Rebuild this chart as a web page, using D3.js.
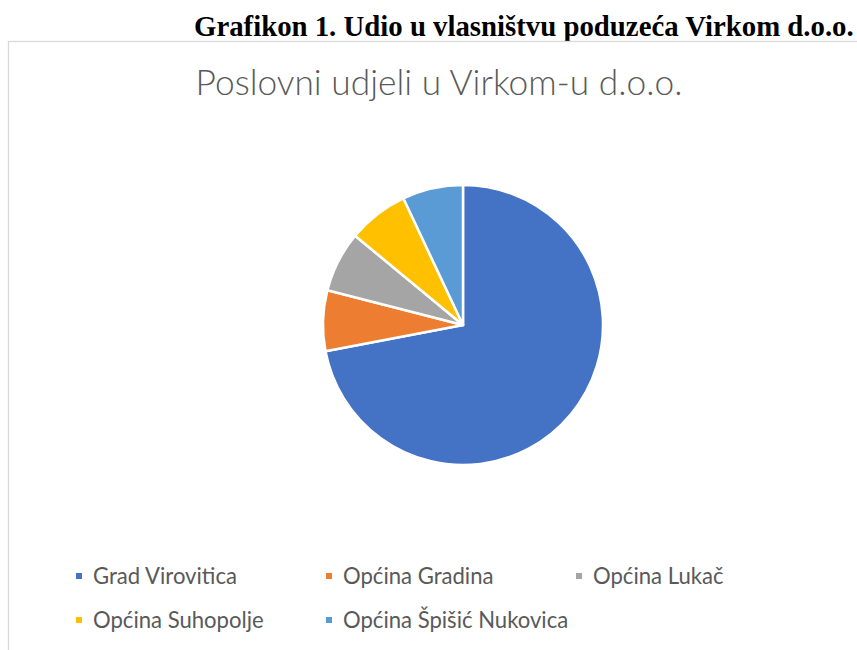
<!DOCTYPE html>
<html>
<head>
<meta charset="utf-8">
<script src="https://cdn.jsdelivr.net/npm/d3@7"></script>
<style>
  body { margin: 0; background: #fff; }
  svg { display: block; }
</style>
</head>
<body>
<svg id="chart" width="857" height="650"></svg>
<script>
// data
const categories = ["Grad Virovitica", "Općina Gradina", "Općina Lukač", "Općina Suhopolje", "Općina Špišić Nukovica"];
const shares = [72, 7, 7, 7, 7];
const colors = ["#4472C4", "#ED7D31", "#A5A5A5", "#FFC000", "#5B9BD5"];

const pageTitle = "Grafikon 1. Udio u vlasništvu poduzeća Virkom d.o.o.";
const chartTitle = "Poslovni udjeli u Virkom-u d.o.o.";

const svg = d3.select("#chart");

// fit a text element's font size to a target width
function fitWidth(sel, target) {
    const fs = parseFloat(sel.attr("font-size"));
    const w = sel.node().getComputedTextLength();
    sel.attr("font-size", fs * target / w);
}

// document caption above the chart, squeezed so it just fits at the right edge
const caption = svg.append("text")
    .attr("x", 194)
    .attr("y", 36)
    .attr("font-family", "'Liberation Serif', 'Times New Roman', serif")
    .attr("font-weight", "bold")
    .attr("font-size", 27)
    .attr("fill", "#000")
    .text(pageTitle);
fitWidth(caption, 660);

// chart area border
svg.append("rect")
    .attr("x", 8.5)
    .attr("y", 41.5)
    .attr("width", 900)
    .attr("height", 700)
    .attr("fill", "none")
    .attr("stroke", "#d9d9d9")
    .attr("stroke-width", 1.3);

const title = svg.append("text")
    .attr("x", 439)
    .attr("y", 95)
    .attr("text-anchor", "middle")
    .attr("font-family", "Lato, 'Open Sans', sans-serif")
    .attr("font-weight", 300)
    .attr("font-size", 32)
    .attr("fill", "#595959")
    .text(chartTitle);
fitWidth(title, 487);

// pie
const cx = 463, cy = 325, radius = 140;

const pie = d3.pie().sort(null).value(d => d)(shares);
const arc = d3.arc().innerRadius(0).outerRadius(radius);

const pie_g = svg.append("g")
    .attr("transform", `translate(${cx}, ${cy})`);

pie_g.selectAll(".slice")
    .data(pie)
    .join("path")
    .classed("slice", true)
    .attr("d", arc)
    .attr("fill", (d, i) => colors[i])
    .attr("stroke", "#fff")
    .attr("stroke-width", 2.5)
    .attr("stroke-linejoin", "round");

// legend, 3 per row
const legend = svg.append("g");
const items = legend.selectAll(".item")
    .data(categories)
    .join("g")
    .classed("item", true)
    .attr("transform", (d, i) => `translate(${76 + (i % 3) * 250}, ${576 + Math.floor(i / 3) * 44})`);

items.append("rect")
    .attr("x", 0)
    .attr("y", -3)
    .attr("width", 6)
    .attr("height", 6)
    .attr("fill", (d, i) => colors[i]);

const labels = items.append("text")
    .attr("x", 17)
    .attr("y", 8)
    .attr("font-family", "Lato, 'Open Sans', sans-serif")
    .attr("font-size", 20)
    .attr("fill", "#595959")
    .text(d => d);

// scale legend font so "Grad Virovitica" spans ~144px like in the original
const w0 = labels.nodes()[0].getComputedTextLength();
labels.attr("font-size", 20 * 144 / w0);
</script>
</body>
</html>
